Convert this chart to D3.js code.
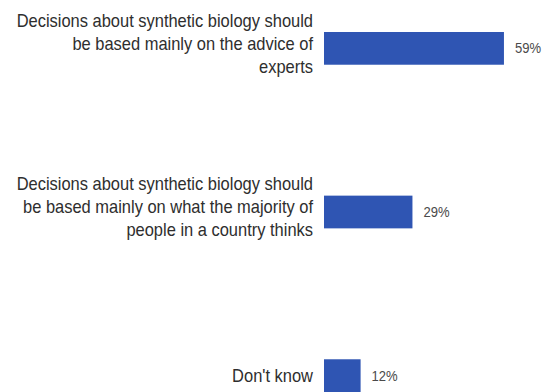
<!DOCTYPE html>
<html>
<head>
<meta charset="utf-8">
<script src="https://cdn.jsdelivr.net/npm/d3@7"></script>
<style>
  body { margin: 0; background: #fff; }
  svg { display: block; }
  .label { font-family: "Liberation Sans", Arial, sans-serif; fill: #2e2e2e; }
  .value { font-family: "Liberation Sans", Arial, sans-serif; fill: #4a4a4a; }
</style>
</head>
<body>
<div id="chart"></div>
<script>
const width = 556,
  height = 392,
  labelRight = 313,
  labelSize = 18.5,
  lineHeight = 23,
  squeeze = 0.89,
  barColor = "#2f55b3";

// answers, as shown on the chart (line breaks kept as in the picture)
const categories = [
  "Decisions about synthetic biology should|be based mainly on the advice of|experts",
  "Decisions about synthetic biology should|be based mainly on what the majority of|people in a country thinks",
  "Don't know"
];
const values = [59, 29, 12];

const data = categories.map((c, i) => ({ label: c, lines: c.split("|"), value: values[i] }));

const svg = d3.select("#chart")
  .append("svg")
  .attr("width", width)
  .attr("height", height);

const xScale = d3.scaleLinear()
  .domain([0, 100])
  .range([324, 629]);

const yScale = d3.scaleBand()
  .domain(categories)
  .range([32, 392])
  .paddingInner(0.8)
  .paddingOuter(0);

svg.selectAll(".bar")
  .data(data)
  .join("rect")
  .attr("class", "bar")
  .attr("x", xScale(0))
  .attr("y", d => yScale(d.label))
  .attr("width", d => xScale(d.value) - xScale(0))
  .attr("height", yScale.bandwidth())
  .attr("fill", barColor);

// value labels
svg.selectAll(".value")
  .data(data)
  .join("text")
  .attr("class", "value")
  .attr("transform", d => `translate(${xScale(d.value) + 11},${yScale(d.label) + yScale.bandwidth() / 2}) scale(0.9,1)`)
  .attr("dy", "0.35em")
  .style("font-size", "14.5px")
  .text(d => d.value + "%");

// category labels, right aligned and a bit narrow like the original
const labels = svg.selectAll(".label")
  .data(data)
  .join("text")
  .attr("class", "label")
  .attr("text-anchor", "end")
  .style("font-size", labelSize + "px")
  .attr("transform", d => {
    // the three-line labels sit a little above the bar middle
    const mid = yScale(d.label) + yScale.bandwidth() / 2 - (d.lines.length > 1 ? 5 : 0);
    const top = mid - (d.lines.length - 1) * lineHeight / 2;
    return `translate(${labelRight},${top}) scale(${squeeze},1)`;
  });

labels.selectAll("tspan")
  .data(d => d.lines)
  .join("tspan")
  .attr("x", 0)
  .attr("y", (d, i) => i * lineHeight)
  .attr("dy", "0.35em")
  .text(d => d);
</script>
</body>
</html>
